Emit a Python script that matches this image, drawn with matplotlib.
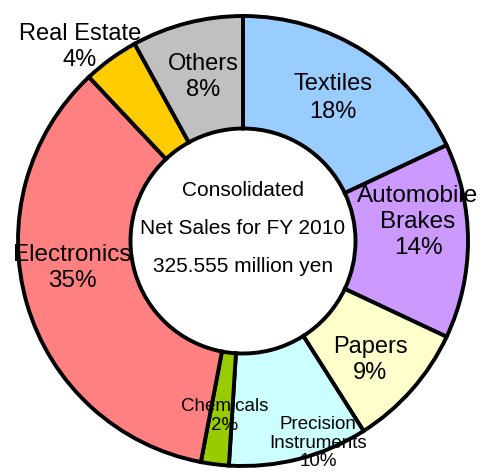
import matplotlib.pyplot as plt

plt.rcParams['font.family'] = ['Liberation Sans', 'DejaVu Sans']

# sales breakdown, clockwise from 12 o'clock
segments = ['Textiles', 'Automobile\nBrakes', 'Papers', 'Precision\nInstruments',
            'Chemicals', 'Electronics', 'Real Estate', 'Others']
shares = [18, 14, 9, 10, 2, 35, 4, 8]
colors = ['#99CCFF', '#CC99FF', '#FFFFCC', '#CCFFFF',
          '#99CC00', '#FF8080', '#FFCC00', '#C0C0C0']
center_lines = ['Consolidated', 'Net Sales for FY 2010', '325.555 million yen']

W, H = 483, 472
fig = plt.figure(figsize=(W / 100, H / 100), dpi=100)
ax = fig.add_axes([0, 0, 1, 1])

# work in pixel units, y measured from the bottom
cx, cy = 243, H - 241
R = 225
wedges, _ = ax.pie(shares, colors=colors, startangle=90, counterclock=False,
                   center=(cx, cy), radius=R,
                   wedgeprops=dict(width=R * 0.5, edgecolor='black', linewidth=2.8))
ax.set_xlim(0, W)
ax.set_ylim(0, H)
ax.axis('off')

# label anchor points (x, y from top) and font sizes
label_pos = [(333, 98), (418, 222), (370, 360), (318, 443),
             (225, 416), (72, 268), (80, 47), (203, 77)]
label_size = [17, 17.5, 17, 13.5, 13.5, 17.5, 17, 17]
label_gap = [1.3, 1.25, 1.2, 1.1, 1.1, 1.25, 1.2, 1.2]

for name, pct, (x, y), fs, gap in zip(segments, shares, label_pos, label_size, label_gap):
    ax.text(x, H - y, '%s\n%d%%' % (name, pct), ha='center', va='center',
            fontsize=fs, linespacing=gap, color='black')

for i, line in enumerate(center_lines):
    ax.text(cx, H - (191 + 37.5 * i), line, ha='center', va='center', fontsize=15)

fig.savefig('out.png', dpi=100)
